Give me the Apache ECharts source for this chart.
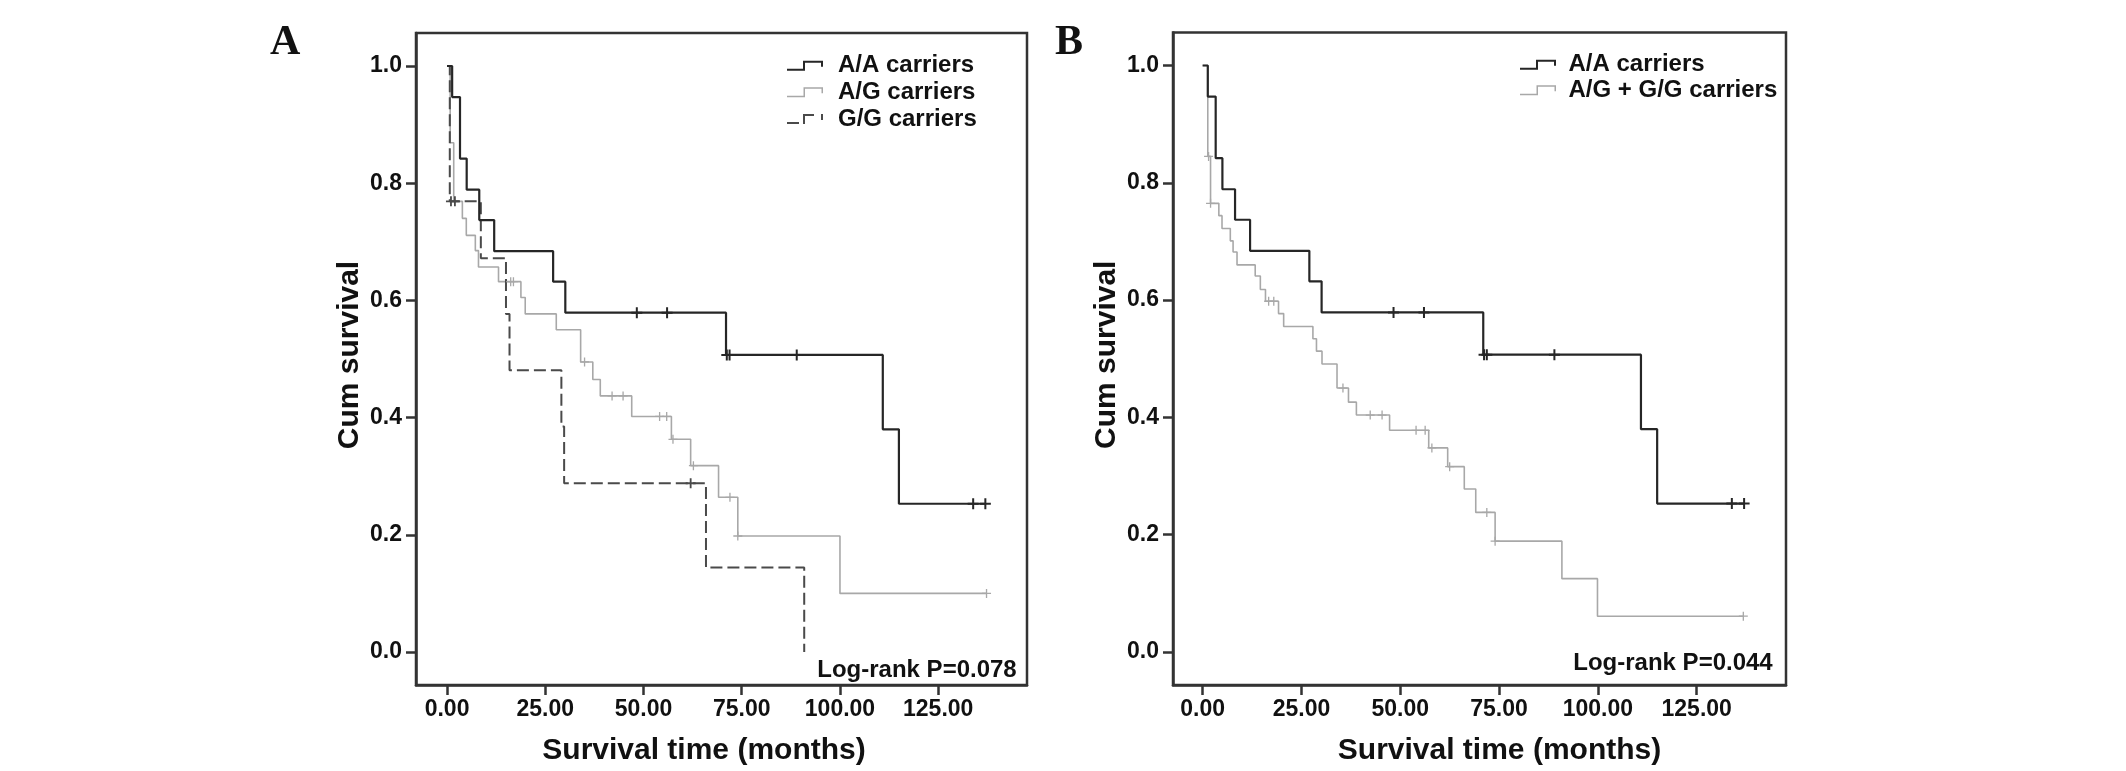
<!DOCTYPE html>
<html>
<head>
<meta charset="utf-8">
<script src="https://cdn.jsdelivr.net/npm/echarts@6/dist/echarts.min.js"></script>
<style>
html,body{margin:0;padding:0;background:#fff;}
#chart{width:2126px;height:771px;}
</style>
</head>
<body>
<div id="chart"></div>
<script>
// ---------- data ----------
const xTicks = [0, 25, 50, 75, 100, 125];
const yTicks = [0, 0.2, 0.4, 0.6, 0.8, 1.0];

// A/A carriers (same in both panels)
const aaTime = [0, 1.3, 3.3, 5.0, 8.2, 12.0, 27.0, 30.1, 71.0, 110.9, 115.0, 137.0];
const aaSurv = [1.0, 0.947, 0.842, 0.789, 0.737, 0.684, 0.632, 0.579, 0.507, 0.380, 0.253, 0.253];
const aaCensTime = [48.3, 56.0, 71.2, 71.9, 89.0, 133.9, 137.0];
const aaCensSurv = [0.579, 0.579, 0.507, 0.507, 0.507, 0.253, 0.253];

// A/G carriers (panel A)
const agTime = [0, 0.8, 1.7, 3.9, 4.9, 7.2, 8.0, 13.1, 18.8, 19.9, 27.8, 34.0, 37.1, 39.0, 47.0, 57.1, 62.0, 69.1, 74.0, 100.0, 137.3];
const agSurv = [1.0, 0.869, 0.769, 0.740, 0.711, 0.685, 0.657, 0.632, 0.605, 0.577, 0.550, 0.495, 0.465, 0.437, 0.402, 0.363, 0.318, 0.264, 0.198, 0.100, 0.100];
const agCensTime = [16.2, 16.9, 35.0, 42.0, 44.8, 54.1, 55.9, 57.5, 62.7, 72.0, 74.0, 137.3];
const agCensSurv = [0.632, 0.632, 0.495, 0.437, 0.437, 0.402, 0.402, 0.363, 0.318, 0.264, 0.198, 0.100];

// G/G carriers (panel A)
const ggTime = [0, 0.7, 8.6, 15.0, 15.9, 29.1, 29.8, 65.9, 90.9];
const ggSurv = [1.0, 0.769, 0.672, 0.577, 0.481, 0.385, 0.288, 0.144, 0.0];
const ggCensTime = [1.0, 2.0, 62.0];
const ggCensSurv = [0.769, 0.769, 0.288];

// A/G + G/G carriers (panel B)
const cgTime = [0, 1.3, 2.0, 4.1, 4.9, 7.0, 7.7, 8.7, 13.3, 14.6, 15.9, 19.2, 20.5, 27.9, 28.8, 30.2, 34.0, 36.9, 38.9, 47.3, 57.2, 62.0, 66.2, 69.1, 74.0, 90.9, 99.9, 136.8];
const cgSurv = [1.0, 0.845, 0.765, 0.744, 0.722, 0.701, 0.682, 0.660, 0.641, 0.618, 0.598, 0.577, 0.555, 0.534, 0.513, 0.491, 0.450, 0.426, 0.404, 0.378, 0.348, 0.316, 0.278, 0.238, 0.189, 0.125, 0.061, 0.061];
const cgCensTime = [1.5, 2.0, 16.7, 18.0, 35.5, 42.4, 45.4, 54.0, 56.3, 58.0, 62.5, 71.9, 74.0, 136.8];
const cgCensSurv = [0.845, 0.765, 0.598, 0.598, 0.450, 0.404, 0.404, 0.378, 0.378, 0.348, 0.316, 0.238, 0.189, 0.061];

const panelLabels = ['A', 'B'];
const pValues = ['Log-rank P=0.078', 'Log-rank P=0.044'];
const xName = 'Survival time (months)';
const yName = 'Cum survival';

// ---------- helpers ----------
const zip = (a, b) => a.map((v, i) => [v, b[i]]);
const FONT = 'Liberation Sans, Arial, Helvetica, sans-serif';
const DARK = '#262626';
const GRAY = '#a8a8a8';
const DASH = '#4a4a4a';
const FRAME = '#333';

const plusThick = 'path://M4.5,0 H6.5 V4.5 H11 V6.5 H6.5 V11 H4.5 V6.5 H0 V4.5 H4.5 Z';
const plusThin = 'path://M4.7,0 H6.3 V4.7 H11 V6.3 H6.3 V11 H4.7 V6.3 H0 V4.7 H4.7 Z';
const iconSolid = 'path://M0,8 L16,8 L16,0 L36,0 L36,6 L34,6 L34,2 L18,2 L18,10 L0,10 Z';
const iconThin = 'path://M0,8.5 L16.5,8.5 L16.5,0 L36,0 L36,6 L34.5,6 L34.5,1.5 L18,1.5 L18,10 L0,10 Z';
const iconDash = 'path://M0,8 L12,8 L12,10 L0,10 Z M16,2 L16,0 L27,0 L27,2 L18,2 L18,10 L16,10 Z M34,0 L36,0 L36,6 L34,6 Z';

function xAxis(gi, min, padding) {
  return {
    type: 'value', gridIndex: gi, min: min, max: 147.6,
    name: xName, nameLocation: 'middle', nameGap: 51,
    nameTextStyle: { fontFamily: FONT, fontWeight: 'bold', fontSize: 30, color: '#111', padding: padding },
    axisLine: { show: true, onZero: false, lineStyle: { color: FRAME, width: 2.5 } },
    axisTick: { show: true, inside: false, length: 10, lineStyle: { color: FRAME, width: 2.5 }, customValues: xTicks },
    axisLabel: { show: true, margin: 13, fontFamily: FONT, fontWeight: 'bold', fontSize: 23, color: '#111',
      customValues: xTicks, formatter: v => v.toFixed(2) },
    splitLine: { show: false }
  };
}
function yAxis(gi) {
  return {
    type: 'value', gridIndex: gi, min: -0.0563, max: 1.0563,
    name: yName, nameLocation: 'middle', nameGap: 51, nameRotate: 90,
    nameTextStyle: { fontFamily: FONT, fontWeight: 'bold', fontSize: 30, color: '#111', padding: [0, 0, 0, 8] },
    axisLine: { show: true, onZero: false, lineStyle: { color: FRAME, width: 2.5 } },
    axisTick: { show: true, inside: false, length: 10, lineStyle: { color: FRAME, width: 2.5 }, customValues: yTicks },
    axisLabel: { show: true, margin: 14, fontFamily: FONT, fontWeight: 'bold', fontSize: 23, color: '#111',
      customValues: yTicks, formatter: v => v.toFixed(1) },
    splitLine: { show: false }
  };
}
function curve(name, gi, t, s, color, width, type) {
  return {
    name: name, type: 'line', step: 'end', xAxisIndex: gi, yAxisIndex: gi,
    data: zip(t, s), showSymbol: false, symbol: 'none', silent: true,
    color: color,
    lineStyle: { color: color, width: width, type: type || 'solid', cap: 'butt' },
    z: 3
  };
}
function cens(name, gi, t, s, color, sym, size) {
  return {
    name: name, type: 'scatter', xAxisIndex: gi, yAxisIndex: gi,
    data: zip(t, s), symbol: sym, symbolSize: size, silent: true,
    itemStyle: { color: color, opacity: 1 }, z: 4
  };
}

const chart = echarts.init(document.getElementById('chart'), null, { renderer: 'canvas' });
const legendText = { fontFamily: FONT, fontWeight: 'bold', fontSize: 24, color: '#111', lineHeight: 26.7 };

chart.setOption({
  animation: false,
  backgroundColor: '#fff',
  grid: [
    { left: 416, top: 33, width: 611, height: 657.5, show: true, borderColor: FRAME, borderWidth: 2.5, backgroundColor: 'transparent' },
    { left: 1173, top: 32.5, width: 613, height: 656, show: true, borderColor: FRAME, borderWidth: 2.5, backgroundColor: 'transparent' }
  ],
  xAxis: [xAxis(0, -7.9, [0, 35, 0, 0]), xAxis(1, -7.5, [0, 0, 0, 40])],
  yAxis: [yAxis(0), yAxis(1)],
  legend: [
    {
      orient: 'vertical', left: 782, top: 47.3, itemGap: 0, itemWidth: 36, itemHeight: 10,
      textStyle: Object.assign({ padding: [0, 0, 0, 10] }, legendText),
      itemStyle: { borderWidth: 0 }, selectedMode: false,
      data: [
        { name: 'A/A carriers', icon: iconSolid },
        { name: 'A/G carriers', icon: iconThin },
        { name: 'G/G carriers', icon: iconDash }
      ]
    },
    {
      orient: 'vertical', left: 1515, top: 47, itemGap: 0, itemWidth: 37, itemHeight: 10,
      textStyle: Object.assign({ padding: [0, 0, 0, 7] }, legendText, { lineHeight: 25.5 }),
      itemStyle: { borderWidth: 0 }, selectedMode: false,
      data: [
        { name: 'A/A carriers', icon: iconSolid },
        { name: 'A/G + G/G carriers', icon: iconThin }
      ]
    }
  ],
  graphic: [
    { type: 'text', left: 270, top: 22, silent: true,
      style: { text: panelLabels[0], font: 'bold 42px "Liberation Serif", "Times New Roman", serif', fill: '#111' } },
    { type: 'text', left: 1055, top: 22, silent: true,
      style: { text: panelLabels[1], font: 'bold 42px "Liberation Serif", "Times New Roman", serif', fill: '#111' } },
    { type: 'text', x: 1016.7, y: 670, silent: true,
      style: { text: pValues[0], font: 'bold 24px ' + FONT, fill: '#111', align: 'right', verticalAlign: 'middle' } },
    { type: 'text', x: 1772.7, y: 663.5, silent: true,
      style: { text: pValues[1], font: 'bold 24px ' + FONT, fill: '#111', align: 'right', verticalAlign: 'middle' } }
  ],
  series: [
    curve('A/G carriers', 0, agTime, agSurv, GRAY, 1.6),
    curve('G/G carriers', 0, ggTime, ggSurv, DASH, 2, [12, 5]),
    curve('A/A carriers', 0, aaTime, aaSurv, DARK, 2.2),
    cens('A/G censored', 0, agCensTime, agCensSurv, GRAY, plusThin, 9),
    cens('G/G censored', 0, ggCensTime, ggCensSurv, DASH, plusThick, 10),
    cens('A/A censored', 0, aaCensTime, aaCensSurv, DARK, plusThick, 11),

    curve('A/G + G/G carriers', 1, cgTime, cgSurv, GRAY, 1.6),
    curve('A/A carriers', 1, aaTime, aaSurv, DARK, 2.2),
    cens('A/G + G/G censored', 1, cgCensTime, cgCensSurv, GRAY, plusThin, 9),
    cens('A/A censored B', 1, aaCensTime, aaCensSurv, DARK, plusThick, 11)
  ]
});
</script>
</body>
</html>
